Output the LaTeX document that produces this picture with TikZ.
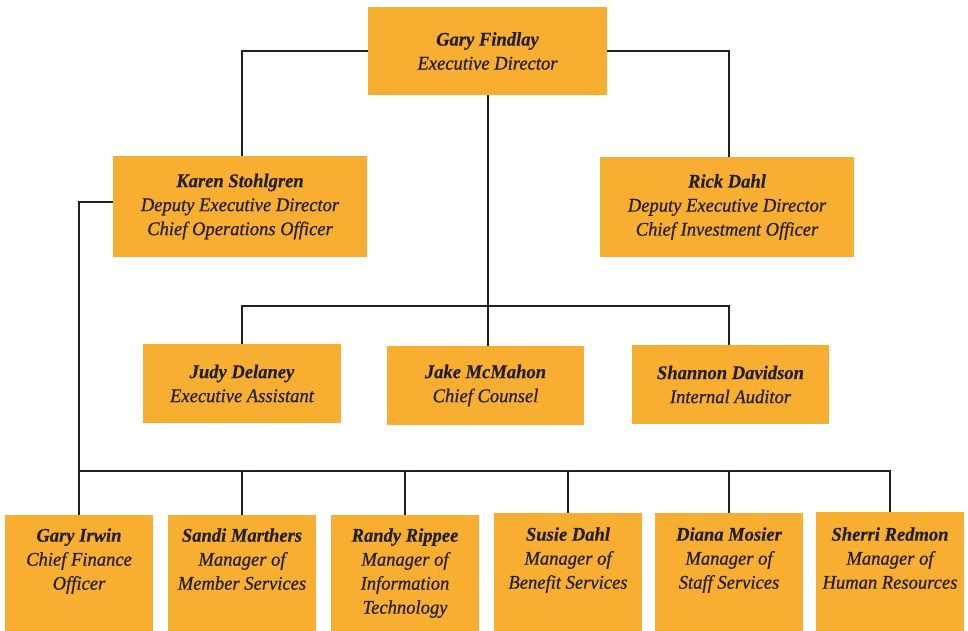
\documentclass[tikz,border=0pt]{standalone}
\usepackage{fontspec}
\setmainfont{Liberation Serif}[FakeStretch=0.96, ItalicFeatures={FakeBold=0.6}, BoldItalicFeatures={FakeBold=0.3}]
\definecolor{boxorange}{HTML}{F7AE31}
\definecolor{inkdark}{HTML}{231F20}
\tikzset{
  orgbox/.style={fill=boxorange, draw=none, inner sep=0pt, align=center,
    text=inkdark, font=\fontsize{14.5}{18}\selectfont\itshape},
  orgtext/.style={inner sep=0pt, align=center, anchor=north,
    text=inkdark, font=\fontsize{14.5}{18}\selectfont\itshape},
  conn/.style={draw=inkdark, line width=1.5pt},
}
\newcommand{\nm}[1]{{\bfseries #1}}
\begin{document}
\begin{tikzpicture}[x=0.75pt,y=-0.75pt]
\useasboundingbox (0,0) rectangle (968,631);
% top level
\node[orgbox, minimum width=179.25pt, minimum height=66pt] (gf) at (487.5,51)
  {\nm{Gary Findlay}\\Executive Director};
\node[orgbox, minimum width=190.5pt, minimum height=75.75pt] (ks) at (240,206.5)
  {\nm{Karen Stohlgren}\\Deputy Executive Director\\Chief Operations Officer};
\node[orgbox, minimum width=190.5pt, minimum height=75pt] (rd) at (727,207)
  {\nm{Rick Dahl}\\Deputy Executive Director\\Chief Investment Officer};
% middle row
\node[orgbox, minimum width=148.5pt, minimum height=59.25pt] (jd) at (242,383.5)
  {\nm{Judy Delaney}\\Executive Assistant};
\node[orgbox, minimum width=147.75pt, minimum height=59.25pt] (jm) at (485.5,385.5)
  {\nm{Jake McMahon}\\Chief Counsel};
\node[orgbox, minimum width=147.75pt, minimum height=59.25pt] (sd) at (730.5,384.5)
  {\nm{Shannon Davidson}\\Internal Auditor};
% bottom row boxes
\node[fill=boxorange, inner sep=0pt, minimum width=111pt, minimum height=87pt] (gi) at (79,573) {};
\node[fill=boxorange, inner sep=0pt, minimum width=111pt, minimum height=87pt] (sm) at (242,573) {};
\node[fill=boxorange, inner sep=0pt, minimum width=111pt, minimum height=87pt] (rr) at (405,573) {};
\node[fill=boxorange, inner sep=0pt, minimum width=111pt, minimum height=88.5pt] (sh) at (568,572) {};
\node[fill=boxorange, inner sep=0pt, minimum width=111pt, minimum height=88.5pt] (dm) at (729,572) {};
\node[fill=boxorange, inner sep=0pt, minimum width=111pt, minimum height=89.25pt] (sr) at (890,571.5) {};
% bottom row texts
\node[orgtext] (git) at (79,528) {\nm{Gary Irwin}\\Chief Finance\\Officer};
\node[orgtext] (smt) at (242,528) {\nm{Sandi Marthers}\\Manager of\\Member Services};
\node[orgtext] (rrt) at (405,528) {\nm{Randy Rippee}\\Manager of\\Information\\Technology};
\node[orgtext] (sht) at (568,527) {\nm{Susie Dahl}\\Manager of\\Benefit Services};
\node[orgtext] (dmt) at (729,527) {\nm{Diana Mosier}\\Manager of\\Staff Services};
\node[orgtext] (srt) at (890,527) {\nm{Sherri Redmon}\\Manager of\\Human Resources};
% connectors
\coordinate (bus1) at (487,306);
\coordinate (bus2) at (79,471);
\draw[conn] (gf.west) -| ([xshift=1.5pt]ks.north);
\draw[conn] (gf.east) -| ([xshift=1.5pt]rd.north);
\draw[conn] (gf.south) -- (gf.south |- jm.north);
\draw[conn] (jd.north) |- (bus1) -| ([xshift=-1pt]sd.north);
\draw[conn] ([yshift=3.4pt]ks.west) -| (gi.north);
\draw[conn] (bus2) -| (sr.north);
\draw[conn] (sm.north) -- (sm.north |- bus2);
\draw[conn] (rr.north) -- (rr.north |- bus2);
\draw[conn] (sh.north) -- (sh.north |- bus2);
\draw[conn] (dm.north) -- (dm.north |- bus2);
\end{tikzpicture}
\end{document}
